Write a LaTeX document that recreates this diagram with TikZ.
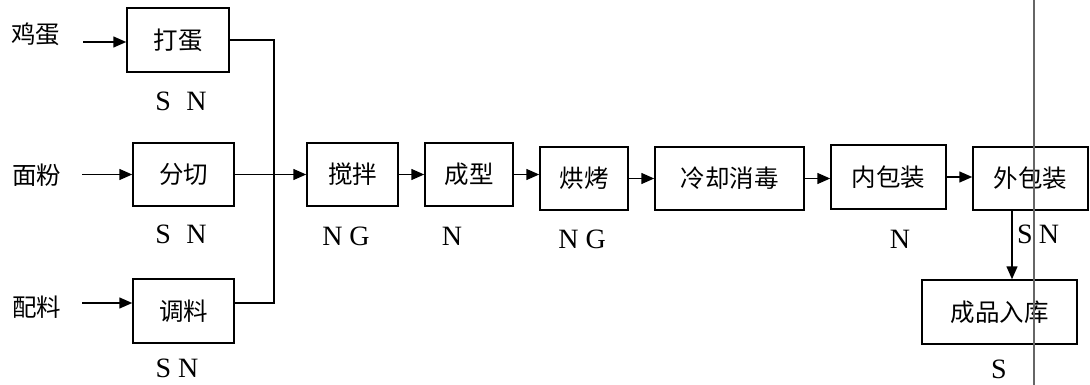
\documentclass[tikz,border=0pt]{standalone}
\usepackage{fontspec}
\setmainfont{Liberation Serif}
\newfontfamily\cjk{Noto Sans CJK SC}
\usetikzlibrary{arrows.meta}
\begin{document}
\begin{tikzpicture}[x=1pt,y=-1pt,
  box/.style={draw,line width=1.5pt,inner sep=0pt,font=\cjk\fontsize{24.5}{24.5}\selectfont},
  lab/.style={inner sep=0pt,font=\cjk\fontsize{24.5}{24.5}\selectfont},
  code/.style={inner sep=0pt,font=\fontsize{28}{28}\selectfont},
  conn/.style={line width=1.5pt},
  arr/.style={line width=1.5pt,-{Triangle[length=13pt,width=11pt]}}]
\useasboundingbox (0,0) rectangle (1090,385);
% boxes
\node[box,minimum width=102pt,minimum height=64pt] (dadan) at (178,40) {打蛋};
\node[box,minimum width=101pt,minimum height=63pt] (fenqie) at (183.5,174.5) {分切};
\node[box,minimum width=101pt,minimum height=64pt] (tiaoliao) at (183.5,311) {调料};
\node[box,minimum width=91pt,minimum height=63pt] (jiaoban) at (352.5,174.5) {搅拌};
\node[box,minimum width=88pt,minimum height=63pt] (chengxing) at (469,174.5) {成型};
\node[box,minimum width=88pt,minimum height=63pt] (hongkao) at (584,178.5) {烘烤};
\node[box,minimum width=149pt,minimum height=63pt] (lengque) at (729.5,178.5) {冷却消毒};
\node[box,minimum width=115pt,minimum height=64pt] (neibao) at (888.5,177) {内包装};
\node[box,minimum width=115pt,minimum height=63pt] (waibao) at (1030.5,178.5) {外包装};
\node[box,minimum width=155pt,minimum height=64pt] (chengpin) at (999.5,312) {成品入库};
% input labels
\node[lab] (egg) at (36,34) {鸡蛋};
\node[lab] (flour) at (37,175) {面粉};
\node[lab] (mix) at (37,307) {配料};
\coordinate (eggs) at (83,42);
\coordinate (flours) at (82,174.5);
\coordinate (mixs) at (82,303);
% code labels
\node[code] (c1) at (181,101) {S\hspace{0.55em}N};
\node[code] (c2) at (181,234) {S\hspace{0.55em}N};
\node[code] (c3) at (177,368) {S N};
\node[code] (c4) at (346,236) {N G};
\node[code] (c5) at (452,236) {N};
\node[code] (c6) at (582,239) {N G};
\node[code] (c7) at (900,239) {N};
\node[code] (c8) at (1025,234) {S};
\node[code] (c9) at (1049,234) {N};
\node[code,anchor=base,text depth=0pt] (c10) at (999,378) {S};
% connectors
\draw[arr] (eggs) -- (eggs -| dadan.west);
\draw[arr] (flours) -- (fenqie.west);
\draw[arr] (mixs) -- (mixs -| tiaoliao.west);
\coordinate (j) at (274,174.5);
\draw[conn] (dadan.east) -| (j) |- ([yshift=8pt]tiaoliao.east);
\draw[arr] (fenqie.east) -- (jiaoban.west);
\draw[arr] (jiaoban.east) -- (chengxing.west);
\draw[arr] (chengxing.east) -- (chengxing.east -| hongkao.west);
\draw[arr] (hongkao.east) -- (lengque.west);
\draw[arr] (lengque.east) -- (lengque.east -| neibao.west);
\draw[arr] (neibao.east) -- (neibao.east -| waibao.west);
\coordinate (ax) at (1012,0);
\draw[arr] (waibao.south -| ax) -- (chengpin.north -| ax);
% grey vertical line
\draw[line width=1.4pt,black!60] (1034,0) -- (1034,385);
\end{tikzpicture}
\end{document}
